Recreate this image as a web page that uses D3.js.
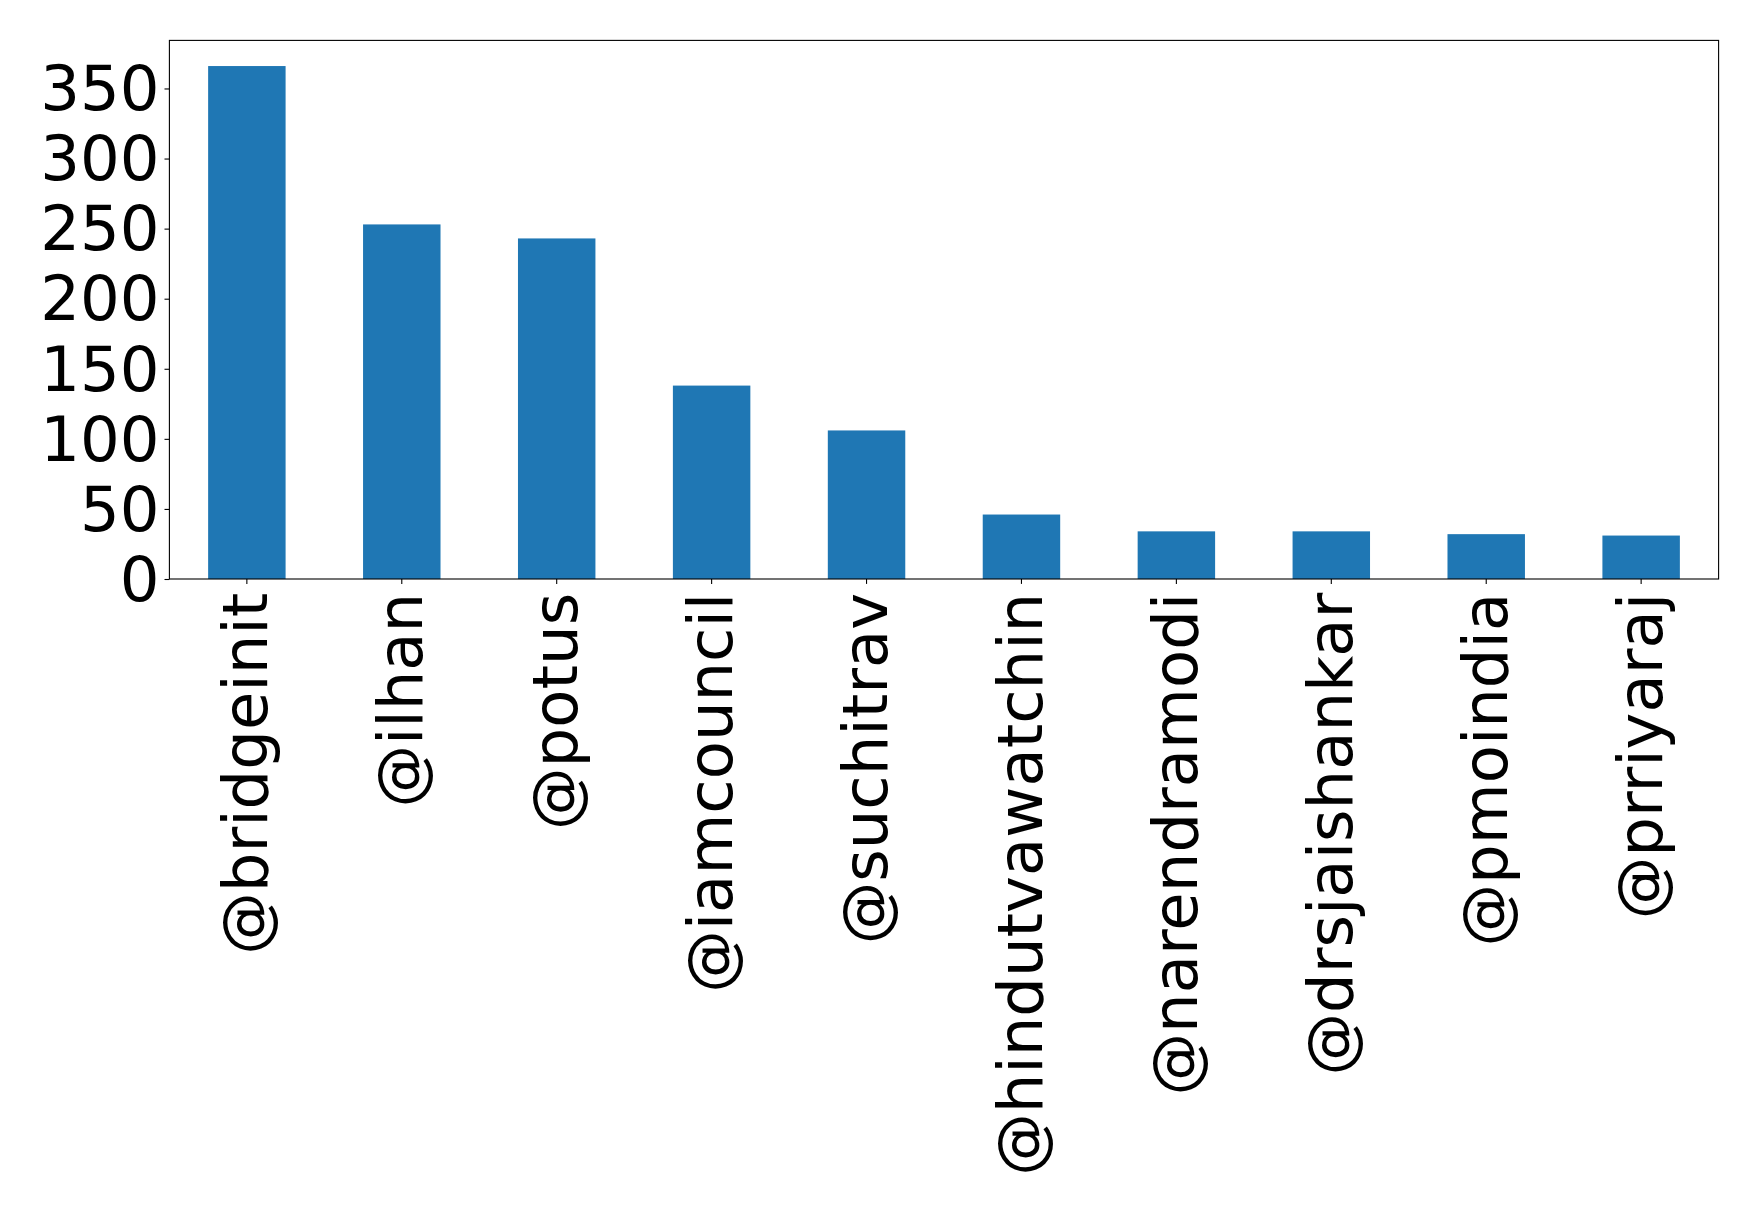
<!DOCTYPE html>
<html>
<head>
<meta charset="utf-8">
<script src="https://cdn.jsdelivr.net/npm/d3@7"></script>
<style>
  html, body { margin: 0; padding: 0; background: #fff; }
  text { font-family: "DejaVu Sans", sans-serif; }
</style>
</head>
<body>
<div id="chart"></div>
<script>
const handles = ["@bridgeinit", "@ilhan", "@potus", "@iamcouncil", "@suchitrav",
  "@hindutvawatchin", "@narendramodi", "@drsjaishankar", "@pmoindia", "@prriyaraj"];
const counts = [366, 253, 243, 138, 106, 46, 34, 34, 32, 31];
const yTicks = [0, 50, 100, 150, 200, 250, 300, 350];

(() => {
  const W = 1759, H = 1211;
  const margin = { top: 40.4, right: 40.4, bottom: 632, left: 169.4 };
  const width = W - margin.left - margin.right;
  const height = H - margin.top - margin.bottom;
  const fontSize = 62.5;
  const tickLen = 4.9, tickPad = 4.9;

  const svg = d3.select("#chart").append("svg")
    .attr("width", W)
    .attr("height", H)
    .append("g")
    .attr("transform", `translate(${margin.left},${margin.top})`);

  const x = d3.scaleBand()
    .domain(handles)
    .range([0, width])
    .paddingInner(0.5)
    .paddingOuter(0.25);

  const y = d3.scaleLinear()
    .domain([0, d3.max(counts) * 1.05])
    .range([height, 0]);

  const data = handles.map((h, i) => ({ handle: h, count: counts[i] }));

  svg.selectAll(".bar")
    .data(data)
    .enter().append("rect")
    .attr("class", "bar")
    .attr("x", d => x(d.handle))
    .attr("y", d => y(d.count))
    .attr("width", x.bandwidth())
    .attr("height", d => height - y(d.count))
    .attr("fill", "#1f77b4");

  // Y axis
  const yAxis = svg.append("g")
    .call(d3.axisLeft(y).tickValues(yTicks).tickSize(tickLen).tickPadding(tickPad));
  yAxis.select(".domain").remove();
  yAxis.selectAll("line").attr("stroke", "#000").attr("stroke-width", 1.1);
  yAxis.selectAll("text")
    .attr("dy", "0.34em")
    .style("font-size", fontSize + "px")
    .attr("fill", "#000");

  // X axis, labels turned upright
  const xAxis = svg.append("g")
    .attr("transform", `translate(0,${height})`)
    .call(d3.axisBottom(x).tickSize(tickLen).tickPadding(tickPad));
  xAxis.select(".domain").remove();
  xAxis.selectAll("line").attr("stroke", "#000").attr("stroke-width", 1.1);
  xAxis.selectAll("text")
    .attr("transform", "rotate(-90)")
    .attr("x", -(tickLen + tickPad + 4))
    .attr("y", 0)
    .attr("dy", "0.33em")
    .style("text-anchor", "end")
    .style("font-size", fontSize + "px")
    .attr("fill", "#000");

  // Frame
  svg.append("rect")
    .attr("x", 0)
    .attr("y", 0)
    .attr("width", width)
    .attr("height", height)
    .attr("fill", "none")
    .attr("stroke", "#000")
    .attr("stroke-width", 1.1);
})();
</script>
</body>
</html>
